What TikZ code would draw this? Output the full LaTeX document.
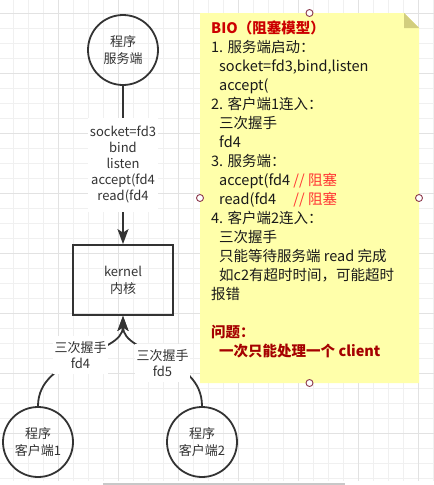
\documentclass[tikz,border=0pt]{standalone}
\usepackage{fontspec}
\setmainfont{Noto Sans CJK SC}
\usepackage{tikz}
\usetikzlibrary{arrows.meta,shapes.geometric,positioning,calc}
\definecolor{bioInk}{HTML}{333333}
\definecolor{bioNoteInk}{HTML}{1A1A1A}
\definecolor{bioGridMinor}{HTML}{F0F0F0}
\definecolor{bioGridMajor}{HTML}{E2E2E2}
\definecolor{bioNoteFill}{HTML}{FFFFAA}
\definecolor{bioNoteFold}{HTML}{D2CE7E}
\definecolor{bioTitle}{HTML}{CC0000}
\definecolor{bioProblem}{HTML}{A50000}
\definecolor{bioBlock}{HTML}{FF3333}
\definecolor{bioHandleRed}{HTML}{8E3B4E}
\definecolor{bioScroll}{HTML}{C8C8C8}
\tikzset{
  bioCircle/.style={circle,draw=bioInk,line width=1.8pt,minimum size=70pt,
    inner sep=0pt,align=center,text=bioInk,font=\fontsize{13}{17}\selectfont},
  bioBox/.style={rectangle,draw=bioInk,line width=1.8pt,minimum width=100pt,
    minimum height=70pt,align=center,text=bioInk,font=\fontsize{13}{17}\selectfont},
  bioLabel/.style={fill=white,text=bioInk,align=center,
    font=\fontsize{13}{16}\selectfont,inner xsep=1.5pt,inner ysep=5pt},
  bioEdge/.style={draw=bioInk,line width=1.8pt,
    -{Stealth[length=15pt,width=11pt,inset=3.5pt]}},
  bioHandle/.style={circle,draw=bioHandleRed,fill=white,line width=0.9pt,
    minimum size=7pt,inner sep=0pt}
}

\begin{document}
\begin{tikzpicture}[x=1pt,y=-1pt]
\useasboundingbox (0,0) rectangle (434,485);
% background grid
\foreach \gx in {13,28,...,433}
  \draw[bioGridMinor,line width=0.8pt] (\gx,0) -- (\gx,481);
\foreach \gy in {13,28,...,478}
  \draw[bioGridMinor,line width=0.8pt] (0,\gy) -- (434,\gy);
\foreach \gx in {58,118,...,418}
  \draw[bioGridMajor,line width=0.9pt] (\gx,0) -- (\gx,481);
\foreach \gy in {13,73,...,433}
  \draw[bioGridMajor,line width=0.9pt] (0,\gy) -- (434,\gy);
\draw[bioScroll,line width=2pt] (103,484) -- (345,484);

% programs and kernel
\node[bioCircle] (server) at (123,50) {程序\\服务端};
\node[bioBox] (kernel) at (123,280) {kernel\\内核};
\node[bioCircle] (client1) at (38,442) {程序\\客户端1};
\node[bioCircle] (client2) at (202,442) {程序\\客户端2};

\draw[bioEdge] (server) -- (kernel)
  node[bioLabel,midway,inner ysep=8pt] (serverCalls)
  {socket=fd3\\bind\\listen\\accept(fd4\\read(fd4};
\draw[bioEdge] (client1.north) .. controls (38,355) and (123,355) .. (kernel.south)
  node[bioLabel,pos=0.5,yshift=1.5pt] (shake1) {三次握手\\fd4};
\draw[bioEdge] (client2.north) .. controls (202,355) and (123,355) .. (kernel.south)
  node[bioLabel,pos=0.5,yshift=-6.5pt] (shake2) {三次握手\\fd5};

% note
\fill[bioNoteFill] (200,13) -- (404,13) -- (419,28) -- (419,383) -- (200,383) -- cycle;
\fill[bioNoteFold] (404,13) -- (419,28) -- (404,28) -- cycle;
\node[anchor=north west,align=left,inner sep=0pt,text=bioNoteInk,
  font=\fontsize{14.5}{19}\selectfont] (noteText) at (211,21) {%
  \textcolor{bioTitle}{\bfseries BIO（阻塞模型）}\\
  1. 服务端启动：\\
  \hspace*{8pt}socket=fd3,bind,listen\\
  \hspace*{8pt}accept(\\
  2. 客户端1连入：\\
  \hspace*{8pt}三次握手\\
  \hspace*{8pt}fd4\\
  3. 服务端：\\
  \hspace*{8pt}accept(fd4 \textcolor{bioBlock}{// 阻塞}\\
  \hspace*{8pt}\rlap{read(fd4}\phantom{accept(fd4 }\textcolor{bioBlock}{// 阻塞}\\
  4. 客户端2连入：\\
  \hspace*{8pt}三次握手\\
  \hspace*{8pt}只能等待服务端 read 完成\\
  \hspace*{8pt}如c2有超时时间，可能超时\\
  报错\\
  \mbox{}\\
  \textcolor{bioProblem}{\bfseries 问题：}\\
  \hspace*{8pt}\textcolor{bioProblem}{\bfseries 一次只能处理一个 client}};
\node[bioHandle] (handleTop) at (309.5,13) {};
\node[bioHandle] (handleLeft) at (200,198) {};
\node[bioHandle] (handleRight) at (419,198) {};
\node[bioHandle] (handleBottom) at (309.5,383) {};
\end{tikzpicture}
\end{document}
